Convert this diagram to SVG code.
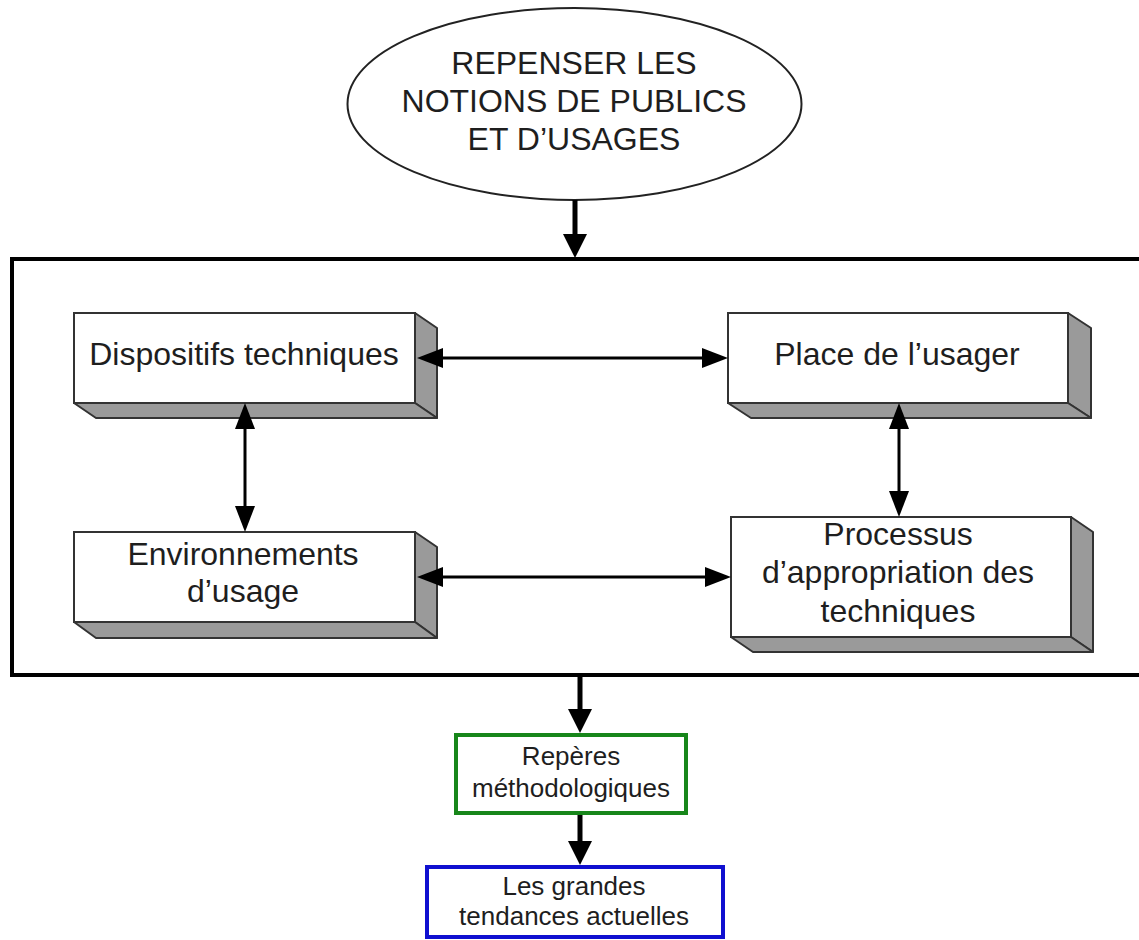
<svg xmlns="http://www.w3.org/2000/svg" width="1139" height="940" viewBox="0 0 1139 940">
<style>
.t{font-family:"Liberation Sans",Arial,sans-serif;fill:#1e1e1e;text-anchor:middle}
.big{font-size:32px}
.sm{font-size:26px}
.front{fill:#fff;stroke:#333;stroke-width:2}
.side{fill:#9a9a9a;stroke:#333;stroke-width:2;stroke-linejoin:round}
.conn{stroke:#000;stroke-width:3;fill:none}
.main{stroke:#000;stroke-width:5;fill:none}
</style>
<defs>
<marker id="ah" viewBox="0 0 26 20" refX="16" refY="10" markerWidth="26" markerHeight="20" markerUnits="userSpaceOnUse" orient="auto-start-reverse">
<path d="M0,0 L26,10 L0,20 z" fill="#000"/>
</marker>
<marker id="ahb" viewBox="0 0 24 24" refX="14" refY="12" markerWidth="24" markerHeight="24" markerUnits="userSpaceOnUse" orient="auto">
<path d="M0,0 L24,12 L0,24 z" fill="#000"/>
</marker>
</defs>
<rect width="1139" height="940" fill="#fff"/>

<g id="container">
<rect x="12" y="259" width="1140" height="416" fill="none" stroke="#000" stroke-width="4"/>
</g>

<g id="top">
<ellipse cx="574.5" cy="104" rx="227" ry="96" fill="#fff" stroke="#222" stroke-width="2"/>
<text class="t big" x="574" y="74">REPENSER LES</text>
<text class="t big" x="574" y="112">NOTIONS DE PUBLICS</text>
<text class="t big" x="574" y="150">ET D’USAGES</text>
</g>

<g id="dispositifs">
<polygon class="side" points="415,313 437,328 437,418 415,403"/>
<polygon class="side" points="74,403 415,403 437,418 96,418"/>
<rect class="front" x="74" y="313" width="341" height="90"/>
<text class="t big" x="244" y="365">Dispositifs techniques</text>
</g>

<g id="place">
<polygon class="side" points="1068,313 1091,328 1091,418 1068,403"/>
<polygon class="side" points="728,403 1068,403 1091,418 751,418"/>
<rect class="front" x="728" y="313" width="340" height="90"/>
<text class="t big" x="897" y="365">Place de l’usager</text>
</g>

<g id="environnements">
<polygon class="side" points="415,532 437,547 437,638 415,622"/>
<polygon class="side" points="74,622 415,622 437,638 96,638"/>
<rect class="front" x="74" y="532" width="341" height="90"/>
<text class="t big" x="243" y="565">Environnements</text>
<text class="t big" x="243" y="602">d’usage</text>
</g>

<g id="processus">
<polygon class="side" points="1071,517 1093,532 1093,652 1071,637"/>
<polygon class="side" points="731,637 1071,637 1093,652 753,652"/>
<rect class="front" x="731" y="517" width="340" height="120"/>
<text class="t big" x="898" y="545">Processus</text>
<text class="t big" x="898" y="583">d’appropriation des</text>
<text class="t big" x="898" y="622">techniques</text>
</g>

<g id="reperes">
<rect x="456" y="735" width="230" height="78" fill="#fff" stroke="#17861a" stroke-width="4"/>
<text class="t sm" x="571" y="765">Repères</text>
<text class="t sm" x="571" y="797">méthodologiques</text>
</g>

<g id="tendances">
<rect x="427" y="867" width="296" height="70" fill="#fff" stroke="#1010d0" stroke-width="4"/>
<text class="t sm" x="574" y="895">Les grandes</text>
<text class="t sm" x="574" y="925">tendances actuelles</text>
</g>

<g id="connectors">
<line class="main" x1="575" y1="200" x2="575" y2="248" marker-end="url(#ahb)"/>
<line class="main" x1="580" y1="677" x2="580" y2="723" marker-end="url(#ahb)"/>
<line class="main" x1="580" y1="815" x2="580" y2="855" marker-end="url(#ahb)"/>
<line class="conn" x1="427" y1="358" x2="718" y2="358" marker-start="url(#ah)" marker-end="url(#ah)"/>
<line class="conn" x1="427" y1="577" x2="721" y2="577" marker-start="url(#ah)" marker-end="url(#ah)"/>
<line class="conn" x1="245" y1="413" x2="245" y2="522" marker-start="url(#ah)" marker-end="url(#ah)"/>
<line class="conn" x1="899" y1="413" x2="899" y2="507" marker-start="url(#ah)" marker-end="url(#ah)"/>
</g>
</svg>
